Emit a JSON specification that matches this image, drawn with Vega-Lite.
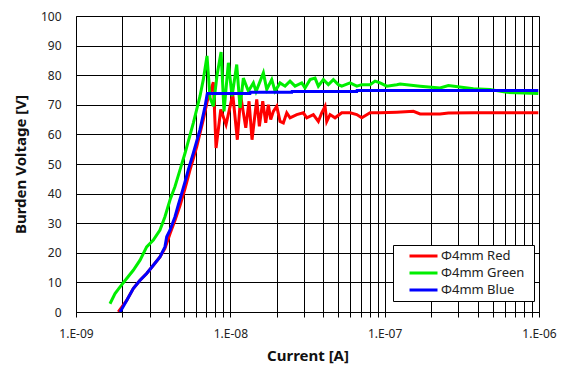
{
  "$schema": "https://vega.github.io/schema/vega-lite/v6.json",
  "width": 463,
  "height": 296,
  "autosize": {"type": "none"},
  "padding": {"left": 76, "top": 16, "right": 28, "bottom": 66},
  "background": "white",
  "config": {"view": {"stroke": null}, "font": "Noto Sans"},
  "data": {"values": [
    {"series": "Φ4mm Red", "current": 1.88e-9, "voltage": 0},
    {"series": "Φ4mm Red", "current": 2.13e-9, "voltage": 3.9},
    {"series": "Φ4mm Red", "current": 2.35e-9, "voltage": 7.9},
    {"series": "Φ4mm Red", "current": 2.60e-9, "voltage": 10.7},
    {"series": "Φ4mm Red", "current": 2.87e-9, "voltage": 13},
    {"series": "Φ4mm Red", "current": 3.17e-9, "voltage": 15.8},
    {"series": "Φ4mm Red", "current": 3.50e-9, "voltage": 18.6},
    {"series": "Φ4mm Red", "current": 3.77e-9, "voltage": 21.5},
    {"series": "Φ4mm Red", "current": 4.07e-9, "voltage": 26.5},
    {"series": "Φ4mm Red", "current": 4.38e-9, "voltage": 31},
    {"series": "Φ4mm Red", "current": 4.72e-9, "voltage": 36},
    {"series": "Φ4mm Red", "current": 5.09e-9, "voltage": 41.8},
    {"series": "Φ4mm Red", "current": 5.48e-9, "voltage": 48},
    {"series": "Φ4mm Red", "current": 6.06e-9, "voltage": 55.9},
    {"series": "Φ4mm Red", "current": 6.68e-9, "voltage": 65},
    {"series": "Φ4mm Red", "current": 7.20e-9, "voltage": 72.9},
    {"series": "Φ4mm Red", "current": 7.39e-9, "voltage": 74},
    {"series": "Φ4mm Red", "current": 7.76e-9, "voltage": 77.6},
    {"series": "Φ4mm Red", "current": 8.08e-9, "voltage": 55.4},
    {"series": "Φ4mm Red", "current": 8.67e-9, "voltage": 68.4},
    {"series": "Φ4mm Red", "current": 9.38e-9, "voltage": 63.3},
    {"series": "Φ4mm Red", "current": 1.037e-8, "voltage": 73.5},
    {"series": "Φ4mm Red", "current": 1.110e-8, "voltage": 58.2},
    {"series": "Φ4mm Red", "current": 1.168e-8, "voltage": 72.9},
    {"series": "Φ4mm Red", "current": 1.259e-8, "voltage": 62.2},
    {"series": "Φ4mm Red", "current": 1.322e-8, "voltage": 71.2},
    {"series": "Φ4mm Red", "current": 1.382e-8, "voltage": 58.2},
    {"series": "Φ4mm Red", "current": 1.483e-8, "voltage": 71.8},
    {"series": "Φ4mm Red", "current": 1.542e-8, "voltage": 62.7},
    {"series": "Φ4mm Red", "current": 1.622e-8, "voltage": 71.2},
    {"series": "Φ4mm Red", "current": 1.696e-8, "voltage": 63.9},
    {"series": "Φ4mm Red", "current": 1.763e-8, "voltage": 70},
    {"series": "Φ4mm Red", "current": 1.827e-8, "voltage": 65},
    {"series": "Φ4mm Red", "current": 1.900e-8, "voltage": 67.8},
    {"series": "Φ4mm Red", "current": 1.998e-8, "voltage": 69.5},
    {"series": "Φ4mm Red", "current": 2.099e-8, "voltage": 64.4},
    {"series": "Φ4mm Red", "current": 2.205e-8, "voltage": 63.9},
    {"series": "Φ4mm Red", "current": 2.320e-8, "voltage": 67.3},
    {"series": "Φ4mm Red", "current": 2.437e-8, "voltage": 65.6},
    {"series": "Φ4mm Red", "current": 2.694e-8, "voltage": 66.7},
    {"series": "Φ4mm Red", "current": 2.972e-8, "voltage": 67.3},
    {"series": "Φ4mm Red", "current": 3.127e-8, "voltage": 65.6},
    {"series": "Φ4mm Red", "current": 3.451e-8, "voltage": 66.7},
    {"series": "Φ4mm Red", "current": 3.718e-8, "voltage": 64.4},
    {"series": "Φ4mm Red", "current": 3.911e-8, "voltage": 67.3},
    {"series": "Φ4mm Red", "current": 4.109e-8, "voltage": 69.5},
    {"series": "Φ4mm Red", "current": 4.214e-8, "voltage": 64.4},
    {"series": "Φ4mm Red", "current": 4.427e-8, "voltage": 66.7},
    {"series": "Φ4mm Red", "current": 4.769e-8, "voltage": 65.6},
    {"series": "Φ4mm Red", "current": 5.272e-8, "voltage": 67.3},
    {"series": "Φ4mm Red", "current": 5.967e-8, "voltage": 67.3},
    {"series": "Φ4mm Red", "current": 6.595e-8, "voltage": 66.7},
    {"series": "Φ4mm Red", "current": 7.106e-8, "voltage": 65.6},
    {"series": "Φ4mm Red", "current": 8.043e-8, "voltage": 67.3},
    {"series": "Φ4mm Red", "current": 9.338e-8, "voltage": 67.3},
    {"series": "Φ4mm Red", "current": 1.198e-7, "voltage": 67.5},
    {"series": "Φ4mm Red", "current": 1.535e-7, "voltage": 67.8},
    {"series": "Φ4mm Red", "current": 1.696e-7, "voltage": 66.9},
    {"series": "Φ4mm Red", "current": 2.286e-7, "voltage": 66.9},
    {"series": "Φ4mm Red", "current": 2.588e-7, "voltage": 67.2},
    {"series": "Φ4mm Red", "current": 3.756e-7, "voltage": 67.3},
    {"series": "Φ4mm Red", "current": 4.821e-7, "voltage": 67.3},
    {"series": "Φ4mm Red", "current": 7.925e-7, "voltage": 67.3},
    {"series": "Φ4mm Red", "current": 9.9e-7, "voltage": 67.3},

    {"series": "Φ4mm Green", "current": 1.66e-9, "voltage": 2.8},
    {"series": "Φ4mm Green", "current": 1.79e-9, "voltage": 6.2},
    {"series": "Φ4mm Green", "current": 1.93e-9, "voltage": 8.5},
    {"series": "Φ4mm Green", "current": 2.13e-9, "voltage": 11.3},
    {"series": "Φ4mm Green", "current": 2.35e-9, "voltage": 14.1},
    {"series": "Φ4mm Green", "current": 2.60e-9, "voltage": 17.5},
    {"series": "Φ4mm Green", "current": 2.87e-9, "voltage": 22},
    {"series": "Φ4mm Green", "current": 3.17e-9, "voltage": 24.3},
    {"series": "Φ4mm Green", "current": 3.50e-9, "voltage": 27.7},
    {"series": "Φ4mm Green", "current": 3.77e-9, "voltage": 32.2},
    {"series": "Φ4mm Green", "current": 4.07e-9, "voltage": 37.9},
    {"series": "Φ4mm Green", "current": 4.38e-9, "voltage": 42.4},
    {"series": "Φ4mm Green", "current": 4.72e-9, "voltage": 48},
    {"series": "Φ4mm Green", "current": 5.09e-9, "voltage": 53.7},
    {"series": "Φ4mm Green", "current": 5.76e-9, "voltage": 63.9},
    {"series": "Φ4mm Green", "current": 6.36e-9, "voltage": 72.9},
    {"series": "Φ4mm Green", "current": 6.68e-9, "voltage": 78.5},
    {"series": "Φ4mm Green", "current": 7.06e-9, "voltage": 86.5},
    {"series": "Φ4mm Green", "current": 7.39e-9, "voltage": 72.3},
    {"series": "Φ4mm Green", "current": 7.76e-9, "voltage": 69.5},
    {"series": "Φ4mm Green", "current": 8.2e-9, "voltage": 80},
    {"series": "Φ4mm Green", "current": 8.71e-9, "voltage": 87.8},
    {"series": "Φ4mm Green", "current": 9.10e-9, "voltage": 67.8},
    {"series": "Φ4mm Green", "current": 9.71e-9, "voltage": 84.2},
    {"series": "Φ4mm Green", "current": 1.026e-8, "voltage": 72.9},
    {"series": "Φ4mm Green", "current": 1.100e-8, "voltage": 83.6},
    {"series": "Φ4mm Green", "current": 1.156e-8, "voltage": 69},
    {"series": "Φ4mm Green", "current": 1.214e-8, "voltage": 79},
    {"series": "Φ4mm Green", "current": 1.309e-8, "voltage": 74.6},
    {"series": "Φ4mm Green", "current": 1.410e-8, "voltage": 77.4},
    {"series": "Φ4mm Green", "current": 1.468e-8, "voltage": 74.5},
    {"series": "Φ4mm Green", "current": 1.637e-8, "voltage": 80.8},
    {"series": "Φ4mm Green", "current": 1.722e-8, "voltage": 75.2},
    {"series": "Φ4mm Green", "current": 1.855e-8, "voltage": 78.5},
    {"series": "Φ4mm Green", "current": 1.949e-8, "voltage": 74.6},
    {"series": "Φ4mm Green", "current": 2.099e-8, "voltage": 77.4},
    {"series": "Φ4mm Green", "current": 2.262e-8, "voltage": 76.3},
    {"series": "Φ4mm Green", "current": 2.437e-8, "voltage": 78},
    {"series": "Φ4mm Green", "current": 2.626e-8, "voltage": 76.3},
    {"series": "Φ4mm Green", "current": 2.902e-8, "voltage": 77.4},
    {"series": "Φ4mm Green", "current": 3.049e-8, "voltage": 75.7},
    {"series": "Φ4mm Green", "current": 3.285e-8, "voltage": 78.5},
    {"series": "Φ4mm Green", "current": 3.539e-8, "voltage": 79},
    {"series": "Φ4mm Green", "current": 3.718e-8, "voltage": 76.3},
    {"series": "Φ4mm Green", "current": 4.006e-8, "voltage": 78.5},
    {"series": "Φ4mm Green", "current": 4.316e-8, "voltage": 76.8},
    {"series": "Φ4mm Green", "current": 4.650e-8, "voltage": 78.5},
    {"series": "Φ4mm Green", "current": 5.011e-8, "voltage": 76.8},
    {"series": "Φ4mm Green", "current": 5.272e-8, "voltage": 76.3},
    {"series": "Φ4mm Green", "current": 5.967e-8, "voltage": 77.4},
    {"series": "Φ4mm Green", "current": 6.595e-8, "voltage": 76.3},
    {"series": "Φ4mm Green", "current": 7.106e-8, "voltage": 76.8},
    {"series": "Φ4mm Green", "current": 8.043e-8, "voltage": 76.8},
    {"series": "Φ4mm Green", "current": 8.667e-8, "voltage": 78},
    {"series": "Φ4mm Green", "current": 9.338e-8, "voltage": 77.4},
    {"series": "Φ4mm Green", "current": 1.032e-7, "voltage": 76.3},
    {"series": "Φ4mm Green", "current": 1.198e-7, "voltage": 76.8},
    {"series": "Φ4mm Green", "current": 1.259e-7, "voltage": 77},
    {"series": "Φ4mm Green", "current": 1.696e-7, "voltage": 76.3},
    {"series": "Φ4mm Green", "current": 2.286e-7, "voltage": 75.7},
    {"series": "Φ4mm Green", "current": 2.588e-7, "voltage": 76.5},
    {"series": "Φ4mm Green", "current": 3.756e-7, "voltage": 75.4},
    {"series": "Φ4mm Green", "current": 4.821e-7, "voltage": 75.2},
    {"series": "Φ4mm Green", "current": 6.186e-7, "voltage": 74.2},
    {"series": "Φ4mm Green", "current": 7.925e-7, "voltage": 74.0},
    {"series": "Φ4mm Green", "current": 9.9e-7, "voltage": 73.8},

    {"series": "Φ4mm Blue", "current": 1.93e-9, "voltage": 0},
    {"series": "Φ4mm Blue", "current": 2.13e-9, "voltage": 3.9},
    {"series": "Φ4mm Blue", "current": 2.35e-9, "voltage": 7.9},
    {"series": "Φ4mm Blue", "current": 2.60e-9, "voltage": 10.7},
    {"series": "Φ4mm Blue", "current": 2.87e-9, "voltage": 13},
    {"series": "Φ4mm Blue", "current": 3.17e-9, "voltage": 15.8},
    {"series": "Φ4mm Blue", "current": 3.50e-9, "voltage": 18.6},
    {"series": "Φ4mm Blue", "current": 3.77e-9, "voltage": 22},
    {"series": "Φ4mm Blue", "current": 3.87e-9, "voltage": 25.4},
    {"series": "Φ4mm Blue", "current": 4.07e-9, "voltage": 27.7},
    {"series": "Φ4mm Blue", "current": 4.38e-9, "voltage": 32.2},
    {"series": "Φ4mm Blue", "current": 4.60e-9, "voltage": 36.2},
    {"series": "Φ4mm Blue", "current": 4.84e-9, "voltage": 40.1},
    {"series": "Φ4mm Blue", "current": 5.09e-9, "voltage": 44},
    {"series": "Φ4mm Blue", "current": 5.34e-9, "voltage": 48},
    {"series": "Φ4mm Blue", "current": 5.76e-9, "voltage": 53.7},
    {"series": "Φ4mm Blue", "current": 6.36e-9, "voltage": 61.6},
    {"series": "Φ4mm Blue", "current": 6.86e-9, "voltage": 69.5},
    {"series": "Φ4mm Blue", "current": 7.09e-9, "voltage": 73.8},
    {"series": "Φ4mm Blue", "current": 1.342e-8, "voltage": 73.8},
    {"series": "Φ4mm Blue", "current": 1.35e-8, "voltage": 74.2},
    {"series": "Φ4mm Blue", "current": 2.50e-8, "voltage": 74.2},
    {"series": "Φ4mm Blue", "current": 2.51e-8, "voltage": 74.5},
    {"series": "Φ4mm Blue", "current": 6.595e-8, "voltage": 74.5},
    {"series": "Φ4mm Blue", "current": 6.62e-8, "voltage": 74.8},
    {"series": "Φ4mm Blue", "current": 9.9e-7, "voltage": 74.8}
  ]},
  "mark": {"type": "line", "strokeWidth": 3, "clip": true},
  "encoding": {
    "x": {
      "field": "current", "type": "quantitative",
      "scale": {"type": "log", "domain": [1e-9, 1e-6], "nice": false},
      "axis": {
        "title": "Current [A]",
        "values": [1e-9, 2e-9, 3e-9, 4e-9, 5e-9, 6e-9, 7e-9, 8e-9, 9e-9, 1e-8, 2e-8, 3e-8, 4e-8, 5e-8, 6e-8, 7e-8, 8e-8, 9e-8, 1e-7, 2e-7, 3e-7, 4e-7, 5e-7, 6e-7, 7e-7, 8e-7, 9e-7, 1e-6],
        "labelExpr": "abs(log(datum.value)/LN10 - round(log(datum.value)/LN10)) < 0.001 ? '1.E-0' + abs(round(log(datum.value)/LN10)) : ''",
        "labelOverlap": false,
        "labelFlush": false,
        "grid": true, "gridColor": "black", "gridOpacity": 1, "gridWidth": 1,
        "domainColor": "black", "domainWidth": 1,
        "tickColor": "black", "tickSize": 5, "tickWidth": 1,
        "labelFontSize": 12, "labelColor": "#222222", "labelPadding": 11,
        "titleFontSize": 15, "titleFontWeight": "bold", "titleColor": "#111111", "titlePadding": 9
      }
    },
    "y": {
      "field": "voltage", "type": "quantitative",
      "scale": {"domain": [0, 100], "nice": false},
      "axis": {
        "title": "Burden Voltage [V]",
        "values": [0, 10, 20, 30, 40, 50, 60, 70, 80, 90, 100],
        "grid": true, "gridColor": "black", "gridOpacity": 1, "gridWidth": 1,
        "ticks": false, "domainColor": "black", "domainWidth": 1,
        "labelFontSize": 12, "labelColor": "#222222", "labelPadding": 15,
        "titleFontSize": 15, "titleFontWeight": "bold", "titleColor": "#111111", "titlePadding": 12
      }
    },
    "color": {
      "field": "series", "type": "nominal",
      "scale": {"domain": ["Φ4mm Red", "Φ4mm Green", "Φ4mm Blue"], "range": ["#ff0000", "#00ee00", "#0000ff"]},
      "legend": {
        "title": " ", "titleOrient": "right", "titlePadding": 6, "titleFontSize": 6,
        "orient": "none", "legendX": 317, "legendY": 229,
        "symbolType": "stroke", "symbolStrokeWidth": 3, "symbolSize": 784, "symbolOffset": 11,
        "clipHeight": 14,
        "labelFontSize": 13, "labelColor": "#222222", "labelOffset": 2,
        "strokeColor": "black", "fillColor": "white", "padding": 4, "rowPadding": 3
      }
    }
  }
}
